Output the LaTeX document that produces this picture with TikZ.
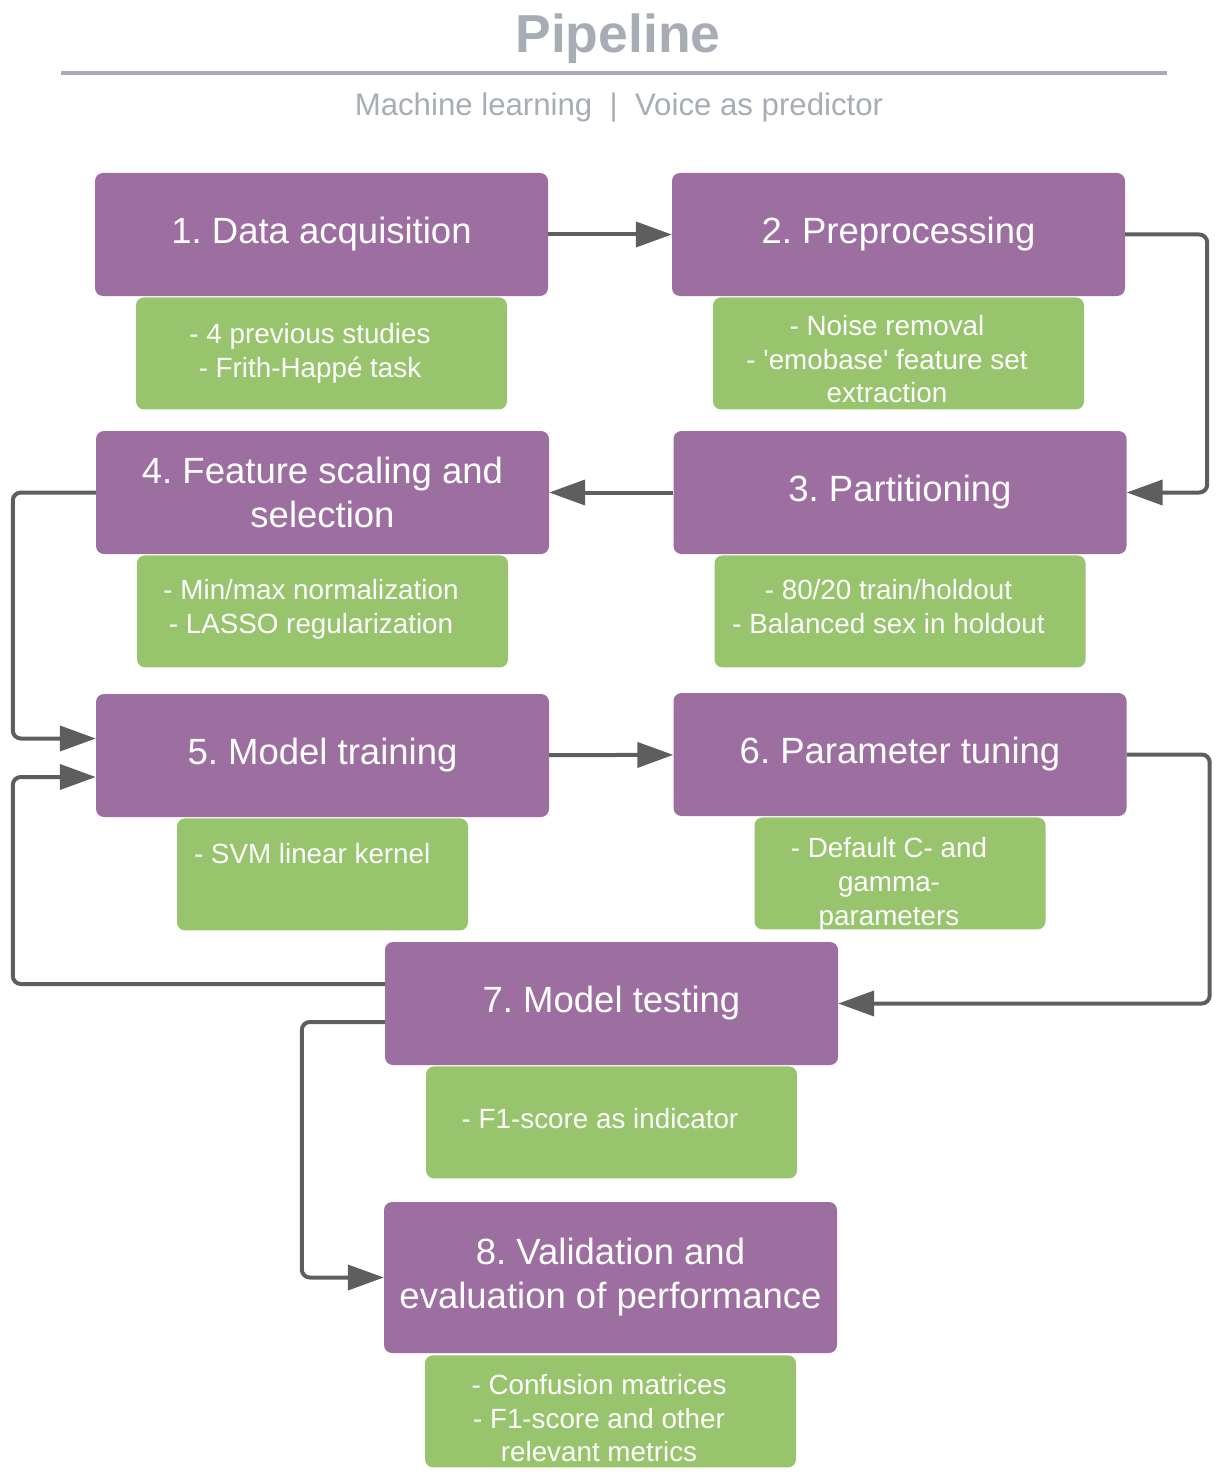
\documentclass[tikz,border=0pt]{standalone}
\usepackage{fontspec}
\setmainfont{Liberation Sans}
\usetikzlibrary{positioning,arrows.meta}
\definecolor{stepcol}{RGB}{157,110,160}
\definecolor{notecol}{RGB}{152,196,109}
\definecolor{linecol}{RGB}{94,94,94}
\definecolor{headcol}{RGB}{168,173,181}
\frenchspacing
\begin{document}
\begin{tikzpicture}[x=1pt,y=-1pt,->,>={Triangle[length=36pt,width=25pt]},
    step node/.style={fill=stepcol,text=white,rounded corners=8pt,inner sep=0pt,
        minimum width=453pt,minimum height=123pt,align=center,
        font=\fontsize{36.5}{44}\selectfont},
    note node/.style={fill=notecol,rounded corners=8pt,inner sep=0pt,
        minimum width=371pt,minimum height=112pt},
    note text/.style={text=white,inner sep=0pt,align=center,
        font=\fontsize{27.8}{33.6}\selectfont},
    flow/.style={color=linecol,line width=4pt,rounded corners=8pt}]

    \useasboundingbox (0,0) rectangle (1229,1479);

    % Heading
    \node[anchor=base,text=headcol,font=\fontsize{53.5}{60}\selectfont\bfseries] (title) at (618,53) {Pipeline};
    \draw[-,headcol,line width=4pt] (61,73) -- (1167,73);
    \node[anchor=base,text=headcol,font=\fontsize{31.2}{36}\selectfont] (sub) at (619,116) {Machine learning~~|~~Voice as predictor};

    % Define steps
    \node[step node] (1) at (321.5,234.5) {1. Data acquisition};
    \node[step node] (2) at (898.5,234.5) {2. Preprocessing};
    \node[step node] (3) at (900,492.5) {3. Partitioning};
    \node[step node] (4) at (322.5,492.5) {4. Feature scaling and\\selection};
    \node[step node] (5) at (322.5,755.5) {5. Model training};
    \node[step node] (6) at (900,754.5) {6. Parameter tuning};
    \node[step node] (7) at (611.5,1003.5) {7. Model testing};
    \node[step node,minimum height=151pt] (8) at (610.5,1277.5) {8. Validation and\\evaluation of performance};

    % Define notes
    \node[note node] (n1) [below=1pt of 1] {};
    \node[note node] (n2) [below=1pt of 2] {};
    \node[note node] (n3) [below=1pt of 3] {};
    \node[note node] (n4) [below=1pt of 4] {};
    \node[note node,minimum width=291pt] (n5) [below=1pt of 5] {};
    \node[note node,minimum width=291pt] (n6) [below=1pt of 6] {};
    \node[note node] (n7) [below=1pt of 7] {};
    \node[note node] (n8) [below=2pt of 8] {};

    % Note texts
    \node[note text] (t1) at ([xshift=-11.5pt]n1.center) {- 4 previous studies\\- Frith-Happé task};
    \node[note text] (t2) at ([xshift=-11.5pt,yshift=-6pt]n2.center) {- Noise removal\\- \textquotesingle emobase\textquotesingle{} feature set\\extraction};
    \node[note text] (t3) at ([xshift=-11.5pt,yshift=5pt]n3.center) {- 80/20 train/holdout\\- Balanced sex in holdout};
    \node[note text] (t4) at ([xshift=-11.5pt,yshift=2pt]n4.center) {- Min/max normalization\\- LASSO regularization};
    \node[note text,anchor=west] (t5) at ([xshift=17pt,yshift=-35pt]n5.north west) {- SVM linear kernel};
    \node[note text] (t6) at ([xshift=-11pt,yshift=-11pt]n6.center) {- Default C- and\\gamma-\\parameters};
    \node[note text] (t7) at ([xshift=-11.5pt,yshift=4pt]n7.center) {- F1-score as indicator};
    \node[note text] (t8) at ([xshift=-11.5pt,yshift=-7pt]n8.center) {- Confusion matrices\\- F1-score and other\\relevant metrics};

    % Draw edges
    \path[flow]
        (1) edge (2)
        (3) edge (4)
        (5) edge (6);
    \draw[flow] (2.east) -- ++(82,0) |- (3.east);
    \draw[flow] (4.west) -- ++(-83,0) |- ([yshift=17pt]5.west);
    \draw[flow] ([yshift=19.5pt]7.west) -- ++(-372,0) |- ([yshift=-21.5pt]5.west);
    \draw[flow] (6.east) -- ++(83,0) |- (7.east);
    \draw[flow] ([yshift=-18.5pt]7.west) -- ++(-83,0) |- (8.west);

\end{tikzpicture}
\end{document}
